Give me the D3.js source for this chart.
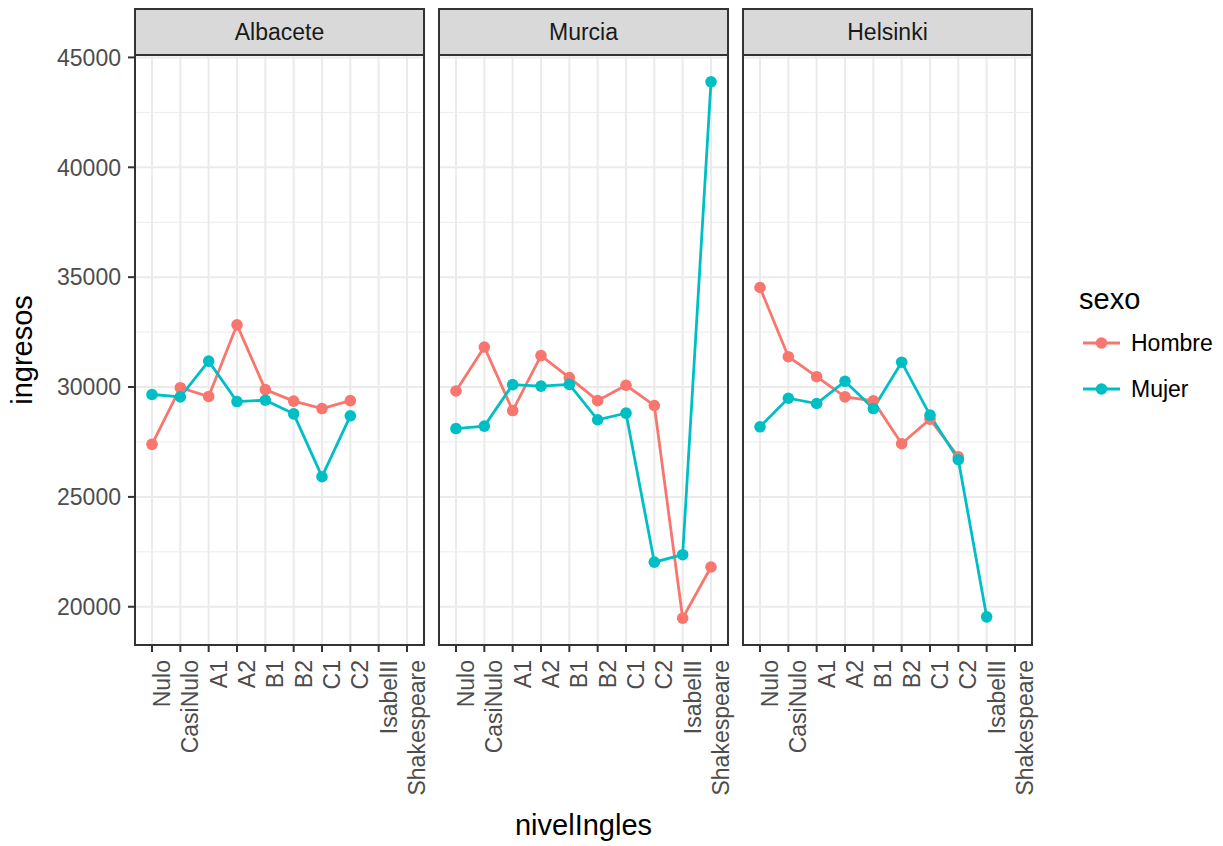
<!DOCTYPE html>
<html>
<head>
<meta charset="utf-8">
<script src="https://cdn.jsdelivr.net/npm/d3@7"></script>
<style>
  body { margin: 0; background: #fff; }
  text { font-family: "Liberation Sans", Arial, sans-serif; }
</style>
</head>
<body>
<script>
// Categories and series
const niveles = ["Nulo", "CasiNulo", "A1", "A2", "B1", "B2", "C1", "C2", "IsabelII", "Shakespeare"];
const ciudades = ["Albacete", "Murcia", "Helsinki"];
const sexos = ["Hombre", "Mujer"];
const colores = ["#F8766D", "#00BFC4"];

// ingresos per nivelIngles (null = no data)
const albaceteHombre = [27390, 29970, 29570, 32830, 29880, 29360, 29020, 29380, null, null];
const albaceteMujer  = [29660, 29550, 31180, 29340, 29400, 28780, 25920, 28690, null, null];
const murciaHombre   = [29820, 31820, 28930, 31430, 30430, 29380, 30080, 29160, 19480, 21810];
const murciaMujer    = [28110, 28220, 30110, 30040, 30120, 28510, 28810, 22030, 22370, 43890];
const helsinkiHombre = [34530, 31380, 30470, 29550, 29370, 27420, 28540, 26820, null, null];
const helsinkiMujer  = [28190, 29490, 29250, 30260, 29020, 31130, 28720, 26690, 19540, null];

const yTicks = [20000, 25000, 30000, 35000, 40000, 45000];
const yMinor = [22500, 27500, 32500, 37500, 42500];

const series = [
  [albaceteHombre, albaceteMujer],
  [murciaHombre, murciaMujer],
  [helsinkiHombre, helsinkiMujer]
];

// Layout
const W = 1223, H = 846;
const plotLeft = 135, plotTop = 55, plotBottom = 645;
const panelW = 289, gap = 15;
const stripTop = 9, stripH = 46;

const svg = d3.select("body").append("svg").attr("width", W).attr("height", H);
svg.append("rect").attr("width", W).attr("height", H).attr("fill", "#fff");

// y scale with ggplot-like 5% expansion
const allVals = series.flat(2).filter(v => v != null);
const ext = d3.extent(allVals);
const pad = (ext[1] - ext[0]) * 0.05;
const y = d3.scaleLinear().domain([ext[0] - pad, ext[1] + pad]).range([plotBottom, plotTop]);

const x = d3.scalePoint().domain(niveles).range([0, panelW]).padding(0.6);

ciudades.forEach(function (ciudad, ci) {
  const left = plotLeft + ci * (panelW + gap);
  const g = svg.append("g").attr("transform", "translate(" + left + ",0)");

  // grid
  g.selectAll(".minor").data(yMinor).enter().append("line")
    .attr("x1", 0).attr("x2", panelW)
    .attr("y1", d => y(d)).attr("y2", d => y(d))
    .attr("stroke", "#EBEBEB").attr("stroke-width", 1);
  g.selectAll(".majorY").data(yTicks).enter().append("line")
    .attr("x1", 0).attr("x2", panelW)
    .attr("y1", d => y(d)).attr("y2", d => y(d))
    .attr("stroke", "#EBEBEB").attr("stroke-width", 2);
  g.selectAll(".majorX").data(niveles).enter().append("line")
    .attr("x1", d => x(d)).attr("x2", d => x(d))
    .attr("y1", plotTop).attr("y2", plotBottom)
    .attr("stroke", "#EBEBEB").attr("stroke-width", 2);

  // lines
  const line = d3.line()
    .defined(d => d.v != null)
    .x(d => x(d.n))
    .y(d => y(d.v));
  series[ci].forEach(function (vals, si) {
    const pts = niveles.map((n, i) => ({ n: n, v: vals[i] }));
    g.append("path").datum(pts)
      .attr("d", line)
      .attr("fill", "none")
      .attr("stroke", colores[si])
      .attr("stroke-width", 2.8);
  });
  // points
  series[ci].forEach(function (vals, si) {
    const pts = niveles.map((n, i) => ({ n: n, v: vals[i] })).filter(d => d.v != null);
    g.selectAll(".pt" + si).data(pts).enter().append("circle")
      .attr("cx", d => x(d.n)).attr("cy", d => y(d.v))
      .attr("r", 5.8).attr("fill", colores[si]);
  });

  // border
  g.append("rect").attr("x", 0).attr("y", plotTop).attr("width", panelW)
    .attr("height", plotBottom - plotTop)
    .attr("fill", "none").attr("stroke", "#333333").attr("stroke-width", 2);

  // strip
  g.append("rect").attr("x", 0).attr("y", stripTop).attr("width", panelW)
    .attr("height", stripH)
    .attr("fill", "#D9D9D9").attr("stroke", "#333333").attr("stroke-width", 2);
  g.append("text").attr("x", panelW / 2).attr("y", stripTop + stripH / 2)
    .attr("dy", "0.36em").attr("text-anchor", "middle")
    .attr("font-size", 23).attr("fill", "#1A1A1A").text(ciudad);

  // x axis
  const xa = g.append("g").attr("transform", "translate(0," + plotBottom + ")");
  xa.selectAll("line").data(niveles).enter().append("line")
    .attr("x1", d => x(d)).attr("x2", d => x(d))
    .attr("y1", 0).attr("y2", 7)
    .attr("stroke", "#333333").attr("stroke-width", 2);
  xa.selectAll("text").data(niveles).enter().append("text")
    .attr("transform", d => "translate(" + x(d) + ",15) rotate(-90)")
    .attr("dy", "0.78em").attr("text-anchor", "end")
    .attr("font-size", 23).attr("fill", "#4D4D4D").text(d => d);
});

// y axis
const ya = svg.append("g").attr("transform", "translate(" + plotLeft + ",0)");
ya.selectAll("line").data(yTicks).enter().append("line")
  .attr("x1", -7).attr("x2", 0)
  .attr("y1", d => y(d)).attr("y2", d => y(d))
  .attr("stroke", "#333333").attr("stroke-width", 2);
ya.selectAll("text").data(yTicks).enter().append("text")
  .attr("x", -14).attr("y", d => y(d)).attr("dy", "0.36em")
  .attr("text-anchor", "end").attr("font-size", 23).attr("fill", "#4D4D4D")
  .text(d => d);

// axis titles
const plotRight = plotLeft + 3 * panelW + 2 * gap;
svg.append("text")
  .attr("transform", "translate(32," + (plotTop + plotBottom) / 2 + ") rotate(-90)")
  .attr("text-anchor", "middle").attr("font-size", 29).attr("fill", "#000")
  .text("ingresos");
svg.append("text")
  .attr("x", (plotLeft + plotRight) / 2).attr("y", 835)
  .attr("text-anchor", "middle").attr("font-size", 29).attr("fill", "#000")
  .text("nivelIngles");

// legend
const lg = svg.append("g");
lg.append("text").attr("x", 1079).attr("y", 309)
  .attr("font-size", 29).attr("fill", "#000").text("sexo");
sexos.forEach(function (s, i) {
  const cy = 343 + i * 46;
  lg.append("line").attr("x1", 1083).attr("x2", 1120).attr("y1", cy).attr("y2", cy)
    .attr("stroke", colores[i]).attr("stroke-width", 2.8);
  lg.append("circle").attr("cx", 1101.5).attr("cy", cy).attr("r", 5.8).attr("fill", colores[i]);
  lg.append("text").attr("x", 1131).attr("y", cy).attr("dy", "0.36em")
    .attr("font-size", 23).attr("fill", "#000").text(s);
});
</script>
</body>
</html>
